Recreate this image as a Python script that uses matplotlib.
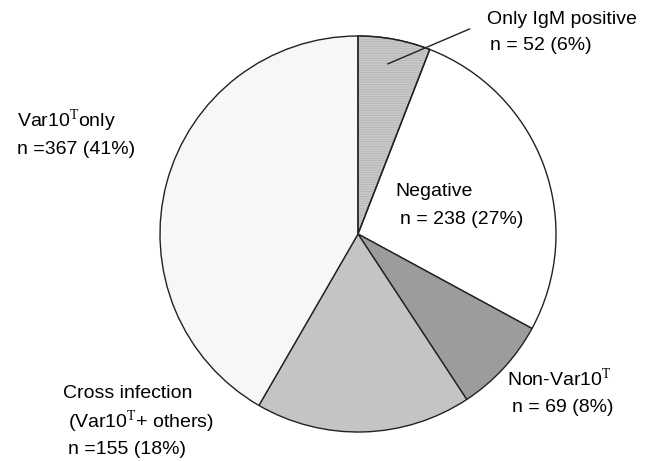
import matplotlib
matplotlib.use('Agg')
from matplotlib import pyplot as plt
from matplotlib.patches import Wedge

plt.rcParams['font.family'] = 'Liberation Sans'
plt.rcParams['mathtext.fontset'] = 'custom'
plt.rcParams['mathtext.rm'] = 'Liberation Serif'
plt.rcParams['hatch.linewidth'] = 0.6

# Dados
categorias = ['Only IgM positive', 'Negative', 'Non-Var10T', 'Cross infection', 'Var10T only']
valores = [52, 238, 69, 155, 367]
percentuais = [6, 27, 8, 18, 41]
cores = ['#c9c9c9', '#ffffff', '#9c9c9c', '#c4c4c4', '#f7f7f7']

W, H = 658, 461
fig = plt.figure(figsize=(W / 100, H / 100), dpi=100)

# eixo do pizza: centro (358, 234), raio 199 px
cx, cy, r = 358, 234, 199
ax = fig.add_axes([(cx - r) / W, 1 - (cy + r) / H, 2 * r / W, 2 * r / H])
wedges, _ = ax.pie(valores, colors=cores, startangle=90, counterclock=False,
                   wedgeprops=dict(edgecolor='#222222', linewidth=1.0))
ax.set_xlim(-1.005, 1.005)
ax.set_ylim(-1.005, 1.005)
ax.set_aspect('equal')
ax.axis('off')

# hachura horizontal na fatia "Only IgM"
w0 = wedges[0]
hach = Wedge((0, 0), 1, w0.theta1, w0.theta2, facecolor='none',
             edgecolor='#b4b4b4', hatch='-------', linewidth=0, zorder=w0.get_zorder() + 0.1)
ax.add_patch(hach)
borda = Wedge((0, 0), 1, w0.theta1, w0.theta2, facecolor='none',
              edgecolor='#222222', linewidth=1.0, zorder=w0.get_zorder() + 0.2)
ax.add_patch(borda)


def px(x, y):
    return x / W, 1 - y / H


def dado(x, y):
    return (x - cx) / r, (cy - y) / r


fs = 14
T = r'$^{\mathrm{T}}$'

# linha de chamada
x0, y0 = dado(470, 28)
x1, y1 = dado(388, 63)
ax.plot([x0, x1], [y0, y1], color='#222222', lw=1.0, clip_on=False, zorder=10)

fig.text(*px(487, 19), 'Only IgM positive', fontsize=fs, va='center')
fig.text(*px(490, 45), 'n = %d (%d%%)' % (valores[0], percentuais[0]), fontsize=fs, va='center')

fig.text(*px(395, 191), 'Negative', fontsize=fs, va='center')
fig.text(*px(400, 220), 'n = %d (%d%%)' % (valores[1], percentuais[1]), fontsize=fs, va='center')

fig.text(*px(507, 379), 'Non-Var10' + T, fontsize=fs, va='center')
fig.text(*px(512, 407), 'n = %d (%d%%)' % (valores[2], percentuais[2]), fontsize=fs, va='center')

fig.text(*px(63, 393), 'Cross infection', fontsize=fs, va='center')
fig.text(*px(68, 422), '(Var10' + T + '+ others)', fontsize=fs, va='center')
fig.text(*px(68, 449), 'n =%d (%d%%)' % (valores[3], percentuais[3]), fontsize=fs, va='center')

fig.text(*px(17, 121), 'Var10' + T + 'only', fontsize=fs, va='center')
fig.text(*px(17, 150), 'n =%d (%d%%)' % (valores[4], percentuais[4]), fontsize=fs, va='center')

fig.savefig('out.png', dpi=100)
